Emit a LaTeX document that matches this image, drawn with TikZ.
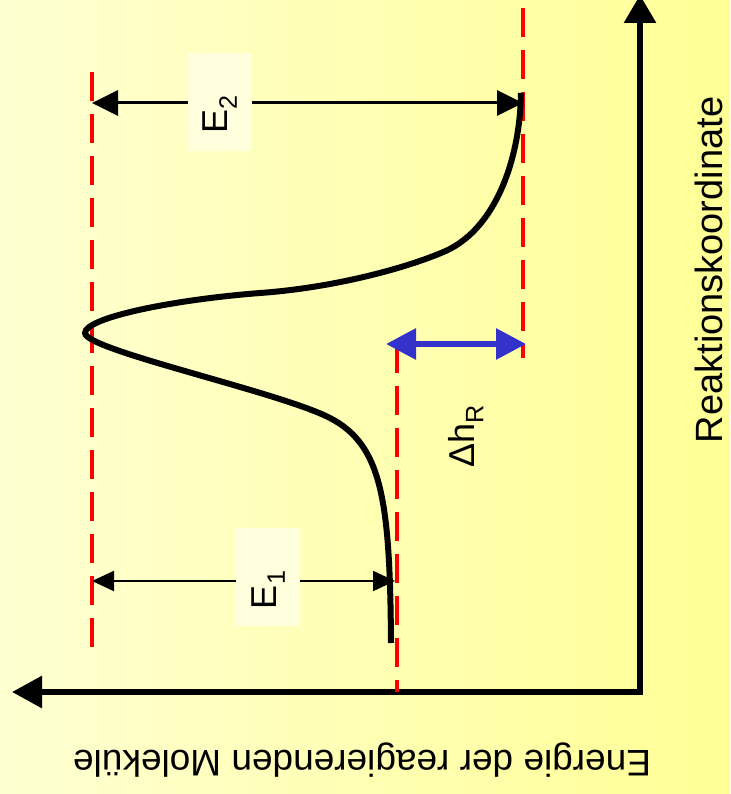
\documentclass[tikz,border=0pt]{standalone}
\usepackage{fontspec}
\setmainfont{Liberation Sans}
\usetikzlibrary{arrows.meta}
\definecolor{paleyellow}{RGB}{255,255,210}
\definecolor{deepyellow}{RGB}{255,255,150}
\definecolor{labelbg}{RGB}{255,255,222}
\definecolor{dhblue}{RGB}{51,51,204}

\begin{document}
\begin{tikzpicture}[x=1pt,y=-1pt,font=\fontsize{36}{43}\selectfont]
  \tikzset{guide/.style={draw=red,line width=4pt,dash pattern=on 29pt off 13pt},
    axis/.style={line width=6pt,line join=miter,{Triangle[length=30pt,width=31pt]}-{Triangle[length=28pt,width=31pt]}},
    dimline/.style={line width=#1},
    ebox/.style={fill=labelbg,rotate=90,text width=64pt,align=left,minimum height=64pt,inner xsep=17pt,inner ysep=0pt}}
  \shade[left color=paleyellow,right color=deepyellow] (0,0) rectangle (730,794);
  \useasboundingbox (0,0) rectangle (730,794);
  % axes
  \coordinate (o) at (640,692);
  \coordinate (xt) at (12,692);
  \coordinate (yt) at (640,-5);
  \draw[axis] (xt) -- (o) -- (yt);
  \node[rotate=180,font=\fontsize{37}{44}\selectfont] (elab) at (362,760) {Energie der reagierenden Moleküle};
  \node[rotate=90,inner sep=0pt,anchor=south,font=\fontsize{38}{45}\selectfont] (rlab) at (723,270) {Reaktionskoordinate};
  % energy levels
  \coordinate (top1) at (92,72);   \coordinate (bot1) at (92,655);
  \coordinate (top2) at (397,344); \coordinate (bot2) at (397,692);
  \coordinate (top3) at (523,8);   \coordinate (bot3) at (523,358);
  \draw[guide] (top1) -- (bot1);
  \draw[guide] (top2) -- (bot2);
  \draw[guide] (top3) -- (bot3);
  % reaction curve
  \draw[line width=6pt] (391,643) .. controls (390,500) and (382,445) .. (330,418)
    .. controls (280,392) and (85,350) .. (85,333)
    .. controls (85,318) and (170,300) .. (260,293)
    .. controls (330,288) and (400,270) .. (441,253)
    .. controls (495,232) and (520,160) .. (521,93);
  % activation energies
  \coordinate (e2l) at (92,103);  \coordinate (e2r) at (523,103);
  \coordinate (e1l) at (92,581);  \coordinate (e1r) at (395,581);
  \draw[dimline=3pt,{Triangle[length=26pt,width=25pt]}-{Triangle[length=26pt,width=25pt]}] (e2l) -- (e2r);
  \draw[dimline=2pt,{Triangle[length=22pt,width=20pt]}-{Triangle[length=22pt,width=20pt]}] (e1l) -- (e1r);
  \node[ebox] (e2) at (220,102) {E\textsubscript{2}};
  \node[ebox] (e1) at (268,577) {E\textsubscript{1}};
  % reaction enthalpy
  \coordinate (dhl) at (386,344); \coordinate (dhr) at (526,344);
  \draw[dhblue,line width=6pt,{Triangle[length=30pt,width=30pt]}-{Triangle[length=30pt,width=30pt]}] (dhl) -- (dhr);
  \node[rotate=90] (dh) at (466,436) {Δh\textsubscript{R}};
\end{tikzpicture}
\end{document}
